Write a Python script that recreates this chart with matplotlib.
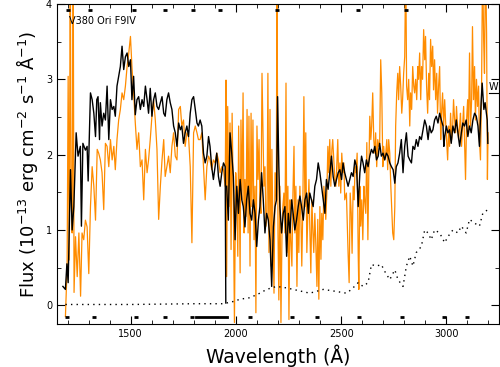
import numpy as np
import matplotlib
matplotlib.use('Agg')
import matplotlib.pyplot as plt
import matplotlib.ticker as ticker

# black spectrum, short-wavelength camera
swp_wl = [1178, 1190, 1197, 1203, 1214, 1222, 1230, 1241, 1250, 1261, 1266, 1273, 1285, 1293, 1298,
          1309, 1317, 1325, 1333, 1339, 1345, 1352, 1356, 1364, 1372, 1380, 1388, 1396, 1404, 1412,
          1420, 1427, 1435, 1443, 1451, 1459, 1467, 1475, 1483, 1491, 1499, 1506, 1514, 1522, 1530,
          1538, 1546, 1554, 1562, 1570, 1578, 1585, 1593, 1601, 1609, 1617, 1625, 1633, 1641, 1649,
          1657, 1664, 1672, 1680, 1688, 1696, 1704, 1712, 1720, 1728, 1736, 1743, 1751, 1759, 1767,
          1775, 1783, 1791, 1799, 1807, 1815, 1822, 1830, 1838, 1846, 1854, 1862, 1870, 1877, 1885,
          1893, 1901, 1909, 1917, 1925, 1933, 1941, 1949, 1952]
swp_fx = [0.25, 0.21, 0.55, 0.30, 1.80, 1.00, 1.31, 2.29, 1.98, 2.11, 1.05, 2.15, 2.06, 2.11, 1.65,
          2.82, 2.73, 2.55, 2.24, 2.73, 2.77, 2.20, 2.69, 2.38, 2.55, 2.46, 2.91, 2.20, 2.73, 2.60,
          2.64, 2.51, 2.91, 3.04, 3.17, 3.44, 3.13, 3.30, 3.35, 3.17, 3.26, 2.73, 3.04, 2.53, 2.73,
          2.77, 2.60, 2.73, 2.64, 2.91, 2.73, 2.55, 2.88, 2.51, 2.73, 2.82, 2.64, 2.60, 2.69, 2.77,
          2.55, 2.51, 2.73, 2.82, 2.69, 2.60, 2.38, 2.29, 2.11, 2.42, 2.33, 2.38, 2.15, 2.29, 2.38,
          2.24, 2.55, 2.73, 2.77, 2.60, 2.42, 2.38, 2.46, 2.38, 2.02, 1.89, 1.98, 2.24, 2.11, 1.84,
          1.67, 1.84, 2.02, 1.71, 1.58, 1.76, 1.89, 1.84, 0.03]

# black spectrum, long-wavelength camera
lwp_wl = [1956, 1964, 1972, 1980, 1988, 1996, 2004, 2012, 2020, 2028, 2035, 2043, 2051, 2059, 2067,
          2075, 2083, 2091, 2099, 2107, 2114, 2122, 2130, 2138, 2146, 2154, 2162, 2170, 2178, 2186,
          2193, 2198, 2204, 2209, 2217, 2225, 2233, 2241, 2249, 2257, 2265, 2272, 2280, 2288, 2296,
          2304, 2312, 2320, 2328, 2336, 2344, 2351, 2359, 2367, 2375, 2383, 2391, 2399, 2407, 2415,
          2423, 2430, 2438, 2446, 2454, 2462, 2470, 2478, 2486, 2494, 2502, 2509, 2517, 2525, 2533,
          2541, 2549, 2557, 2565, 2573, 2581, 2589, 2597, 2604, 2612, 2620, 2628, 2636, 2644, 2652,
          2660, 2668, 2676, 2683, 2691, 2699, 2707, 2715, 2723, 2731, 2739, 2747, 2755, 2762, 2770,
          2778, 2786, 2794, 2802, 2810, 2818, 2826, 2834, 2841, 2849, 2857, 2865, 2873, 2881, 2889,
          2897, 2905, 2913, 2920, 2928, 2936, 2944, 2952, 2960, 2968, 2976, 2984, 2988, 2992, 3000,
          3007, 3015, 3023, 3031, 3039, 3047, 3055, 3063, 3071, 3078, 3086, 3094, 3102, 3110, 3118,
          3126, 3134, 3142, 3150, 3157, 3165, 3170, 3178, 3184, 3194, 3197]
lwp_fx = [1.58, 1.13, 2.29, 2.02, 1.71, 0.87, 1.58, 1.22, 1.67, 1.40, 1.31, 1.04, 1.40, 1.58, 1.22,
          1.13, 1.40, 1.22, 0.78, 1.13, 1.31, 1.76, 1.40, 0.96, 1.22, 1.13, 0.87, 0.25, 1.04, 1.31,
          1.40, 2.77, 1.84, 1.31, 0.96, 1.22, 1.31, 0.65, 1.22, 0.96, 1.40, 1.22, 1.00, 1.13, 1.31,
          1.45, 1.31, 1.13, 1.40, 1.49, 1.22, 1.49, 1.40, 1.31, 1.58, 1.67, 1.89, 1.76, 1.58, 1.40,
          1.22, 1.67, 1.54, 1.76, 1.98, 1.71, 1.58, 1.67, 1.76, 1.80, 1.67, 1.89, 1.76, 1.67, 1.58,
          1.67, 1.76, 1.71, 1.93, 1.84, 1.31, 1.76, 1.98, 1.89, 1.76, 1.93, 1.84, 1.98, 2.07, 2.02,
          2.11, 1.93, 1.98, 2.15, 1.98, 2.02, 1.93, 2.02, 1.98, 1.89, 1.84, 1.80, 1.62, 1.84, 1.89,
          2.02, 2.20, 1.76, 2.11, 2.29, 1.98, 1.93, 1.89, 2.11, 2.07, 2.20, 2.11, 2.24, 2.20, 2.33,
          2.46, 2.38, 2.20, 2.38, 2.29, 2.33, 2.46, 2.51, 2.42, 2.55, 2.46, 2.38, 2.11, 2.24, 2.38,
          2.29, 2.33, 2.15, 2.38, 2.29, 2.46, 2.29, 2.11, 2.29, 2.42, 2.38, 2.46, 2.24, 2.38, 2.29,
          2.46, 2.55, 2.51, 2.38, 2.11, 2.69, 2.95, 2.60, 2.69, 2.46, 2.15]

# orange comparison spectrum
cmp_wl = [1190, 1198, 1203, 1208, 1213, 1217, 1222, 1227, 1231, 1238, 1246, 1254, 1262, 1269, 1277,
          1285, 1293, 1301, 1309, 1317, 1325, 1333, 1341, 1348, 1356, 1364, 1372, 1380, 1388, 1396,
          1404, 1412, 1420, 1427, 1435, 1443, 1451, 1459, 1467, 1475, 1483, 1491, 1499, 1506, 1514,
          1522, 1530, 1538, 1546, 1554, 1562, 1570, 1578, 1585, 1593, 1601, 1609, 1617, 1625, 1633,
          1641, 1649, 1657, 1664, 1672, 1680, 1688, 1696, 1704, 1712, 1720, 1728, 1736, 1743, 1751,
          1759, 1767, 1775, 1783, 1791, 1799, 1807, 1815, 1822, 1830, 1838, 1846, 1854, 1862, 1870,
          1877, 1885, 1893, 1901, 1909, 1917, 1925, 1933, 1941, 1949, 1953, 1956, 1961, 1967, 1972,
          1977, 1982, 1988, 1993, 1999, 2004, 2009, 2013, 2020, 2024, 2029, 2034, 2039, 2043, 2048,
          2053, 2058, 2062, 2067, 2072, 2076, 2081, 2086, 2091, 2095, 2100, 2105, 2110, 2114, 2119,
          2124, 2129, 2133, 2138, 2143, 2148, 2152, 2157, 2162, 2167, 2171, 2176, 2181, 2186, 2192,
          2195, 2200, 2204, 2209, 2214, 2219, 2223, 2228, 2233, 2238, 2242, 2247, 2252, 2257, 2261,
          2266, 2271, 2276, 2280, 2285, 2290, 2295, 2299, 2304, 2309, 2313, 2318, 2323, 2328, 2332,
          2337, 2342, 2347, 2351, 2356, 2361, 2366, 2370, 2375, 2380, 2385, 2389, 2394, 2399, 2404,
          2408, 2413, 2418, 2423, 2427, 2432, 2437, 2441, 2446, 2451, 2456, 2460, 2465, 2470, 2475,
          2479, 2484, 2489, 2494, 2498, 2503, 2508, 2513, 2517, 2525, 2533, 2538, 2543, 2548, 2552,
          2557, 2562, 2566, 2571, 2576, 2581, 2584, 2589, 2593, 2598, 2603, 2608, 2612, 2617, 2622,
          2627, 2631, 2636, 2641, 2645, 2650, 2655, 2660, 2664, 2669, 2674, 2679, 2683, 2688, 2693,
          2698, 2702, 2707, 2712, 2717, 2721, 2726, 2731, 2736, 2740, 2745, 2750, 2755, 2759, 2764,
          2769, 2773, 2778, 2783, 2788, 2792, 2797, 2802, 2807, 2811, 2816, 2821, 2826, 2830, 2835,
          2840, 2845, 2849, 2854, 2859, 2864, 2868, 2873, 2878, 2882, 2887, 2892, 2897, 2901, 2906,
          2911, 2916, 2920, 2925, 2930, 2935, 2939, 2944, 2949, 2954, 2958, 2963, 2968, 2973, 2977,
          2982, 2987, 2992, 2996, 3001, 3006, 3011, 3015, 3020, 3025, 3030, 3034, 3039, 3044, 3048,
          3053, 3058, 3063, 3067, 3072, 3077, 3082, 3086, 3091, 3096, 3101, 3105, 3110, 3115, 3120,
          3124, 3129, 3134, 3138, 3143, 3148, 3153, 3157, 3162, 3167, 3172, 3177, 3181, 3186, 3191,
          3195, 3198]
cmp_fx = [-0.15, 0.50, 3.04, 0.60, 4.60, 1.50, 0.96, 4.60, 0.17, 0.91, 0.38, 0.96, 0.12, 0.96, 0.87,
          1.13, 1.04, 0.42, 1.31, 1.84, 1.58, 1.13, 2.07, 2.02, 1.93, 1.76, 1.27, 2.15, 2.11, 1.84,
          2.20, 1.93, 2.11, 1.80, 2.20, 2.46, 2.60, 2.82, 2.73, 2.91, 3.17, 3.35, 3.57, 3.17, 2.82,
          2.42, 2.07, 2.29, 1.84, 1.93, 1.40, 2.07, 1.76, 1.93, 2.20, 2.51, 2.73, 2.46, 2.07, 1.14,
          1.58, 1.93, 2.20, 1.71, 1.84, 1.98, 1.76, 2.11, 2.29, 1.98, 1.93, 2.60, 2.64, 2.38, 2.46,
          2.11, 2.29, 2.24, 1.84, 0.83, 2.29, 2.38, 2.29, 2.20, 2.20, 2.29, 1.84, 1.40, 1.84, 1.98,
          1.93, 1.80, 1.93, 1.89, 2.02, 1.93, 1.76, 1.84, 1.80, 1.58, 2.99, 0.38, 2.64, 1.31, 2.42,
          0.74, 2.55, 1.31, -0.23, 1.76, 1.49, 0.65, 2.38, 0.43, 2.46, 1.40, 2.82, 0.96, 1.67, 1.18,
          2.60, 0.96, 2.51, 0.52, 2.55, 1.31, 2.46, 0.87, 1.58, -0.10, 2.38, 1.67, 2.20, 1.40, 1.22,
          3.08, 2.20, 1.58, 1.84, 1.05, 1.22, 3.08, 0.70, 2.60, 0.52, 2.07, 0.96, 0.16, 1.76, 1.40,
          4.60, 0.96, 0.07, 1.58, -0.23, 0.96, 1.31, 1.49, 0.96, 2.95, 0.70, 1.58, -0.19, 1.40, 0.87,
          0.52, 1.49, 2.11, 0.96, 1.58, 0.25, 1.40, 0.70, 1.58, 1.13, 0.52, 1.31, 2.77, 1.31, 2.29,
          0.70, 1.22, 1.67, 1.05, 0.43, 1.40, 0.96, 0.70, 1.22, 0.78, 0.25, 1.14, 0.08, 1.31, 0.61,
          1.22, 0.87, 1.58, 1.40, 1.14, 1.49, 2.11, 1.76, 2.20, 1.58, 2.07, 2.20, 1.93, 1.67, 1.58,
          1.84, 2.20, 1.58, 1.89, 1.49, 2.02, 1.76, 1.89, 1.40, 1.49, 0.69, 0.30, 1.49, 1.22, 0.69,
          1.58, 1.40, 1.84, 1.76, 2.02, 0.69, 0.21, 1.58, 1.05, 1.40, 0.87, 1.58, 1.40, 1.22, 2.16,
          0.87, 1.67, 2.51, 2.20, 2.38, 2.82, 2.20, 2.02, 2.29, 1.84, 2.20, 2.11, 2.15, 3.26, 2.82,
          1.84, 2.11, 1.93, 2.02, 2.20, 1.80, 2.20, 2.02, 1.58, 1.31, 0.96, 0.87, 1.31, 2.38, 2.82,
          3.08, 2.73, 3.17, 2.91, 2.55, 2.73, 3.08, 3.30, 4.60, 2.91, 2.73, 3.00, 2.38, 2.82, 2.60,
          3.17, 2.91, 2.82, 3.00, 2.73, 3.17, 3.00, 3.35, 2.73, 3.17, 3.00, 3.66, 3.26, 3.57, 2.91,
          2.55, 3.08, 2.73, 3.53, 3.17, 3.44, 2.86, 3.26, 2.73, 3.08, 2.55, 2.91, 3.17, 2.20, 2.55,
          2.82, 2.38, 2.73, 2.46, 2.20, 1.93, 2.38, 2.11, 2.55, 2.20, 2.38, 2.73, 2.46, 2.29, 2.64,
          2.38, 2.20, 2.38, 2.55, 2.11, 2.38, 2.64, 2.20, 1.67, 2.46, 2.73, 2.29, 3.35, 2.38, 2.73,
          3.70, 2.73, 3.17, 2.46, 3.00, 2.64, 2.91, 2.20, 1.93, 2.82, 4.60, 3.53, 3.08, 4.60, 3.61,
          1.67, 2.29]

# dotted error curves
err1_wl = [1190, 1500, 1800, 1950]
err1_fx = [0.01, 0.01, 0.02, 0.02]
err2_wl = [1956, 1988, 2020, 2067, 2114, 2146, 2193, 2241, 2304, 2351, 2415, 2462, 2525, 2549, 2581,
           2604, 2628, 2644, 2668, 2691, 2707, 2731, 2755, 2770, 2794, 2810, 2826, 2841, 2857, 2881,
           2897, 2913, 2928, 2944, 2968, 2992, 3007, 3031, 3055, 3071, 3094, 3110, 3134, 3157, 3173,
           3197]
err2_fx = [0.03, 0.05, 0.08, 0.10, 0.16, 0.21, 0.25, 0.23, 0.19, 0.16, 0.21, 0.19, 0.16, 0.21, 0.30,
           0.25, 0.30, 0.54, 0.52, 0.54, 0.45, 0.34, 0.47, 0.34, 0.25, 0.52, 0.65, 0.52, 0.70, 0.78,
           1.00, 0.96, 0.87, 1.00, 0.96, 0.83, 0.91, 1.00, 0.96, 1.05, 0.96, 1.14, 1.09, 1.05, 1.22,
           1.27]

# bad-pixel flags
top_flags = [1200, 1309, 1518, 1665, 1797, 1925, 2195, 2579, 2807]
bot_flags = [1199, 1324, 1527, 1665, 1793, 2068, 2266, 2385, 2584, 2788, 2991, 3100]
bot_band = [1810, 1960]

fig = plt.figure(figsize=(5.0, 3.67), dpi=100)
ax = fig.add_axes([0.114, 0.117, 0.884, 0.872])

orange = '#ff8c00'
ax.plot(cmp_wl, cmp_fx, color=orange, lw=0.9)
ax.plot(swp_wl, swp_fx, color='black', lw=1.0)
ax.plot(lwp_wl, lwp_fx, color='black', lw=1.0)
ax.plot(err1_wl, err1_fx, color='black', lw=1.0, ls=(0, (1, 3)))
ax.plot(err2_wl, err2_fx, color='black', lw=1.0, ls=(0, (1, 3)))

ax.plot(top_flags, [3.92] * len(top_flags), ls='none', marker='_', color='black', ms=3, mew=2)
ax.plot(bot_flags, [-0.16] * len(bot_flags), ls='none', marker='_', color='black', ms=3, mew=2)
ax.plot(bot_band, [-0.16, -0.16], color='black', lw=2)

ax.set_xlim(1150, 3250)
ax.set_ylim(-0.25, 4)
ax.xaxis.set_major_locator(ticker.MultipleLocator(500))
ax.xaxis.set_minor_locator(ticker.MultipleLocator(100))
ax.yaxis.set_major_locator(ticker.MultipleLocator(1))
ax.yaxis.set_minor_locator(ticker.MultipleLocator(0.5))
ax.tick_params(axis='both', which='both', direction='in', top=True, right=True, labelsize=7)
ax.tick_params(which='major', length=6)
ax.tick_params(which='minor', length=3)

ax.text(1205, 3.78, 'V380 Ori F9IV', fontsize=7, va='center')
ax.text(3224, 2.9, 'W', fontsize=7, ha='center', va='center')
ax.plot([3202, 3250], [2.82, 2.82], color='black', lw=0.8, clip_on=False)

ax.set_xlabel('Wavelength (Å)', fontsize=13.5)
ax.set_ylabel(r'Flux (10$^{-13}$ erg cm$^{-2}$ s$^{-1}$ Å$^{-1}$)', fontsize=13)

fig.savefig('out.png', dpi=100)
